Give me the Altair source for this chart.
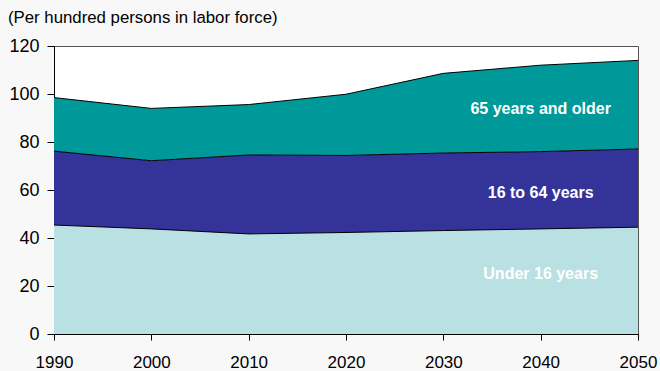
import altair as alt
import pandas as pd

years = [1990, 2000, 2010, 2020, 2030, 2040, 2050]
under16 = [45.4, 43.8, 41.7, 42.3, 43.1, 43.8, 44.5]
age16_64_top = [76.2, 72.2, 74.6, 74.4, 75.4, 76.0, 77.1]
age65_top = [98.5, 94.0, 95.6, 99.9, 108.6, 112.0, 114.0]

groups = ["Under 16 years", "16 to 64 years", "65 years and older"]
colors = ["#b9e0e3", "#333399", "#009999"]

# segment values (differences between cumulative boundaries)
seg = {
    "Under 16 years": under16,
    "16 to 64 years": [t - u for t, u in zip(age16_64_top, under16)],
    "65 years and older": [t - m for t, m in zip(age65_top, age16_64_top)],
}
rows = []
for gi, g in enumerate(groups):
    for y, v in zip(years, seg[g]):
        rows.append({"year": y, "group": g, "value": v, "order": gi})
df = pd.DataFrame(rows)

line_rows = []
for name, vals in [("a", under16), ("b", age16_64_top), ("c", age65_top)]:
    for y, v in zip(years, vals):
        line_rows.append({"year": y, "line": name, "value": v})
ldf = pd.DataFrame(line_rows)

label_df = pd.DataFrame({
    "year": [2040, 2040, 2040],
    "value": [93.8, 58.8, 25.0],
    "text": ["65 years and older", "16 to 64 years", "Under 16 years"],
})

x = alt.X("year:Q", scale=alt.Scale(domain=[1990, 2050], nice=False, zero=False),
          axis=alt.Axis(values=years, format="d", title=None, grid=False,
                        labelFontSize=17, labelColor="#000", labelPadding=14,
                        tickSize=6, tickColor="#000", domainColor="#000",
                        labelFont="Liberation Sans", labelFlush=False))
y_scale = alt.Scale(domain=[0, 120], nice=False)

area = alt.Chart(df).mark_area(opacity=1).encode(
    x=x,
    y=alt.Y("value:Q", stack="zero", scale=y_scale,
            axis=alt.Axis(values=[0, 20, 40, 60, 80, 100, 120], title=None, grid=False,
                          labelFontSize=18, labelColor="#000", labelPadding=8,
                          tickSize=7, tickColor="#000", domainColor="#000",
                          labelFont="Liberation Sans")),
    color=alt.Color("group:N", scale=alt.Scale(domain=groups, range=colors), legend=None),
    order=alt.Order("order:Q"),
)

lines = alt.Chart(ldf).mark_line(color="#000", strokeWidth=1).encode(
    x="year:Q",
    y=alt.Y("value:Q", scale=y_scale),
    detail="line:N",
)

labels = alt.Chart(label_df).mark_text(
    color="white", fontWeight="bold", fontSize=16, font="Liberation Sans", align="center"
).encode(x="year:Q", y=alt.Y("value:Q", scale=y_scale), text="text:N")

chart = alt.layer(area, lines, labels).properties(
    width=584, height=288,
    title=alt.Title("(Per hundred persons in labor force)", anchor="start", frame="group",
                    dx=-46, offset=10, fontSize=16.8, fontWeight="normal", color="#000",
                    font="Liberation Sans"),
    background="#f8f8f8",
    padding={"left": 54, "top": 46, "right": 22, "bottom": 37},
    autosize=alt.AutoSizeParams(type="none"),
).configure_view(fill="white", stroke="#555", strokeWidth=1)

chart.save("out.html", embed_options={
    "renderer": "svg", "actions": False,
    "defaultStyle": "body{margin:0;background:#f8f8f8;overflow:hidden}",
})
